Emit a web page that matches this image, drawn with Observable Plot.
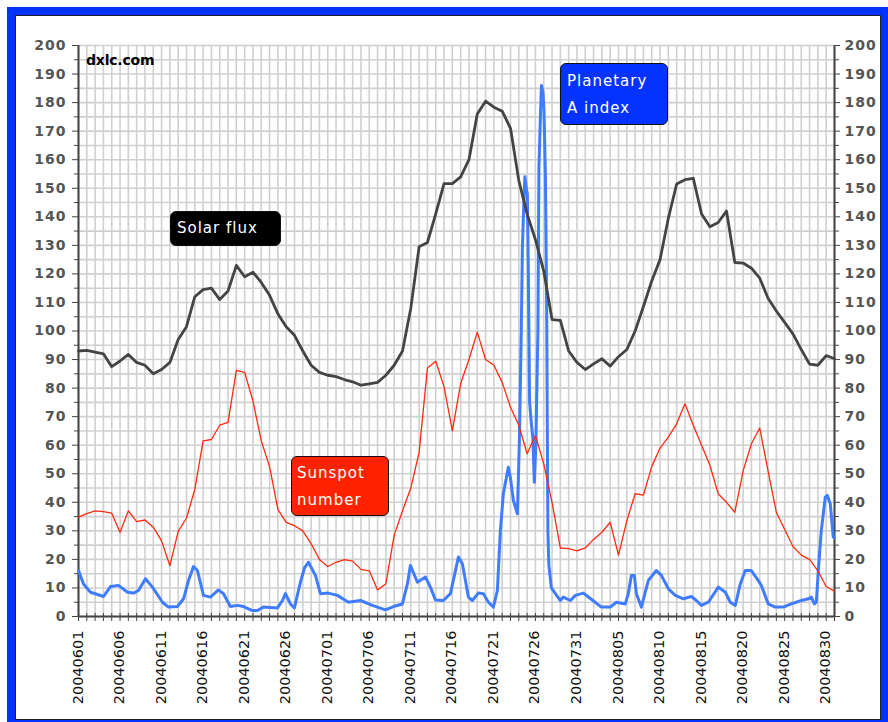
<!DOCTYPE html>
<html><head><meta charset="utf-8">
<script src="https://cdn.jsdelivr.net/npm/d3@7"></script>
<script src="https://cdn.jsdelivr.net/npm/@observablehq/plot@0.6"></script>
<style>
body{margin:0;background:#fff;}
#wrap{position:relative;width:888px;height:722px;overflow:hidden;font-family:"DejaVu Sans",Verdana,sans-serif;}
#blue{position:absolute;left:7px;top:7px;width:881px;height:715px;background:#0433ff;}
#panel{position:absolute;left:15px;top:15px;width:864px;height:703px;background:#fff;border:1px solid #222;}
#chart{position:absolute;left:0;top:0;}
.lbl{position:absolute;color:#fff;border:1px solid #111;border-radius:6px;font-size:15px;letter-spacing:1px;line-height:27px;box-sizing:border-box;white-space:nowrap;}
#brand{position:absolute;left:86px;top:52px;font-weight:bold;font-size:14px;color:#000;letter-spacing:-0.2px;}
#chart g[aria-label="y-axis tick label"] text{letter-spacing:1px;}
</style></head>
<body>
<div id="wrap">
  <div id="blue"></div>
  <div id="panel"></div>
  <div id="chart"></div>
  <div id="brand">dxlc.com</div>
  <div class="lbl" style="left:170px;top:211px;width:111px;height:35px;background:#000;line-height:33px;padding-left:6px;">Solar flux</div>
  <div class="lbl" style="left:291px;top:456px;width:98px;height:60px;background:#ff2200;padding:3px 0 0 5px;">Sunspot<br>number</div>
  <div class="lbl" style="left:560px;top:63px;width:108px;height:62px;background:#0433ff;padding:4px 0 0 6px;">Planetary<br>A index</div>
</div>
<script>
// Day index 0 = 20040601
const startDate = "20040601";
const dateLabels = ["20040601","20040606","20040611","20040616","20040621","20040626","20040701","20040706","20040711","20040716","20040721","20040726","20040731","20040805","20040810","20040815","20040820","20040825","20040830"];
const yTicks = [0,10,20,30,40,50,60,70,80,90,100,110,120,130,140,150,160,170,180,190,200];

// Solar flux, one value per day (day 0 .. 91)
const solarFlux = [93,93.2,92.6,92,87.5,89.5,91.8,89,88,85,86.5,89,97,101.5,112,114.5,115,111,114,123,
  119,120.6,117,112.5,106,101.5,98.5,93,88,85.5,84.5,84,83,82.2,81,81.5,82,84.5,88,93,
  108,129.5,131,141,151.6,151.6,154,160,176,180.5,178.4,177,171,152.7,141,132,121,104,103.7,93,
  89,86.5,88.5,90.3,87.7,91,93.5,100,108.6,117.5,125,139.5,151.5,153,153.5,141,136.5,138,142,124,
  123.8,122,118.5,111.5,107,103,99,93.5,88.4,88,91.4,90.3];

// Sunspot number, one value per day (day 0 .. 91)
const sunspotNumber = [34.8,36,37,36.7,36.2,29.5,37,33.2,33.8,31.3,26.5,17.8,29.8,34.5,44.5,61.5,62,67,68,86.2,
  85.5,75.5,61.5,52.5,37.5,33,31.8,30,25.5,20,17.5,19,19.9,19.4,16.5,16,9.3,11.5,28.5,37,
  45,57.5,87,89.4,80.5,65,81.6,90,99.6,90,88,82,73.3,67,57,63.4,53.5,40,24,23.8,
  23,24,27,29.5,33,21.5,33.5,43,42.5,52.5,59,62.8,67.5,74.5,67,60,53,43,40,36.5,
  51,60.5,66,51,36.5,30.5,24.5,21.5,20,16,10.5,8.9];

// Planetary A index, sub-daily readings: day offsets and values
const aIndexDay = [0,0.6,1.44,2.29,3.01,3.85,4.81,5.9,6.62,7.22,8.06,8.9,10.11,10.83,11.91,12.64,13.24,13.84,14.32,15.04,
  15.88,16.85,17.45,18.29,19.13,19.86,20.94,21.54,22.26,23.95,24.55,24.91,25.51,25.99,26.71,27.2,27.68,28.52,29.12,30.08,
  31.17,32.49,33.94,35.38,36.94,37.91,38.99,39.59,39.95,40.79,41.76,42.36,42.96,43.92,44.77,45.73,46.21,46.93,47.41,48.13,
  48.74,49.34,49.94,50.42,50.78,51.14,51.74,51.98,52.35,52.83,53.07,53.3,53.43,53.55,53.73,53.91,54.03,54.15,54.3,54.5,
  54.7,54.87,55.05,55.3,55.42,55.6,55.72,55.9,56.02,56.2,56.35,56.5,56.62,56.92,57.4,58,58.36,59.21,59.81,60.77,
  61.61,62.94,64.02,64.74,65.82,66.18,66.55,66.91,67.15,67.75,68.59,69.55,70.16,71,71.84,72.8,73.77,74.37,74.97,75.81,
  77.02,77.86,78.46,79.06,79.66,80.26,80.99,81.83,82.19,83.03,83.87,84.84,85.8,87,87.85,88.21,88.57,88.81,89.05,89.41,
  89.89,90.13,90.49,90.85,91];
const aIndexValue = [16.1,11.4,8.5,7.7,7,10.5,10.9,8.5,8.2,9.1,13.2,10.3,5,3.3,3.5,6.2,12.6,17.5,16.1,7.4,
  6.8,9.3,8,3.5,3.9,3.5,2.1,2.1,3.3,3,5.6,8,4.4,3,12,17,19,14.4,8,8.2,
  7.4,5,5.6,3.9,2.3,3.5,4.4,11.4,17.9,12,13.8,10.3,5.8,5.6,8,20.8,18.5,6.8,5.6,8.2,
  8,5,3.3,9.1,30.1,43,52.3,48.8,40.6,36,61.6,100,129,140,154,150,148,120,75,68,
  62,47,60,100,157,175,186,184,178,155,110,30,18,10,8,5.6,6.8,5.6,7.4,8.2,
  6.3,3.3,3.3,5,4.4,8,14.4,14.4,8,3.3,12.6,16.1,14.4,9.7,7.4,6.2,7,5.6,3.9,5,
  10.3,8.5,5,3.9,11.4,16.1,16.1,12.6,10.9,4.4,3.3,3.3,4.4,5.6,6.2,6.8,4.4,5,16.1,30.1,
  41.8,42.4,39.5,27.8,27.5];

const parse = d3.utcParse("%Y%m%d");
const t0 = parse(startDate);
const dayOf = s => d3.utcDay.count(t0, parse(s));
const lastDay = solarFlux.length - 1;
const days = d3.range(solarFlux.length);
const minorY = d3.range(5, 200, 10);

const fluxData = days.map(d => ({d, v: solarFlux[d]}));
const spotData = days.map(d => ({d, v: sunspotNumber[d]}));
const aData = aIndexDay.map((d, i) => ({d, v: aIndexValue[i]}));

const chart = Plot.plot({
  width: 888, height: 722,
  marginLeft: 78, marginRight: 54, marginTop: 45, marginBottom: 106,
  style: {background: "transparent", fontFamily: "DejaVu Sans, Verdana, sans-serif", overflow: "visible"},
  x: {domain: [0, lastDay]},
  y: {domain: [0, 200]},
  marks: [
    Plot.gridY(d3.range(0, 201, 5), {stroke: "#d0d0d0", strokeOpacity: 1, strokeWidth: 1.6}),
    Plot.gridX(days, {stroke: "#d0d0d0", strokeOpacity: 1, strokeWidth: 1.6}),
    Plot.axisY(yTicks, {anchor: "left", tickSize: 6, tickPadding: 6, stroke: "#444", fill: "#555", fontWeight: "bold", fontSize: 14, label: null}),
    Plot.axisY(minorY, {anchor: "left", tickSize: 4, tickFormat: () => "", stroke: "#444", label: null}),
    Plot.axisY(yTicks, {anchor: "right", tickSize: 5, tickPadding: 5, stroke: "#444", fill: "#555", fontWeight: "bold", fontSize: 14, label: null}),
    Plot.axisY(minorY, {anchor: "right", tickSize: 4, tickFormat: () => "", stroke: "#444", label: null}),
    Plot.axisX(days, {tickSize: 8, dy: -3, tickFormat: () => "", stroke: "#444", label: null}),
    Plot.text(dateLabels, {x: dayOf, frameAnchor: "bottom", dx: 4, dy: 14, rotate: -90, textAnchor: "end", fontSize: 14.5, fill: "#111"}),
    Plot.ruleY([0], {stroke: "#444", strokeWidth: 2}),
    Plot.ruleX([0, lastDay], {stroke: "#444", strokeWidth: 2}),
    Plot.line(aData, {x: "d", y: "v", stroke: "#3f7cff", strokeWidth: 3, strokeLinejoin: "round"}),
    Plot.line(spotData, {x: "d", y: "v", stroke: "#ff2a10", strokeWidth: 1.3}),
    Plot.line(fluxData, {x: "d", y: "v", stroke: "#444", strokeWidth: 2.8, strokeLinejoin: "round"})
  ]
});
document.getElementById("chart").appendChild(chart);
</script>
</body></html>
